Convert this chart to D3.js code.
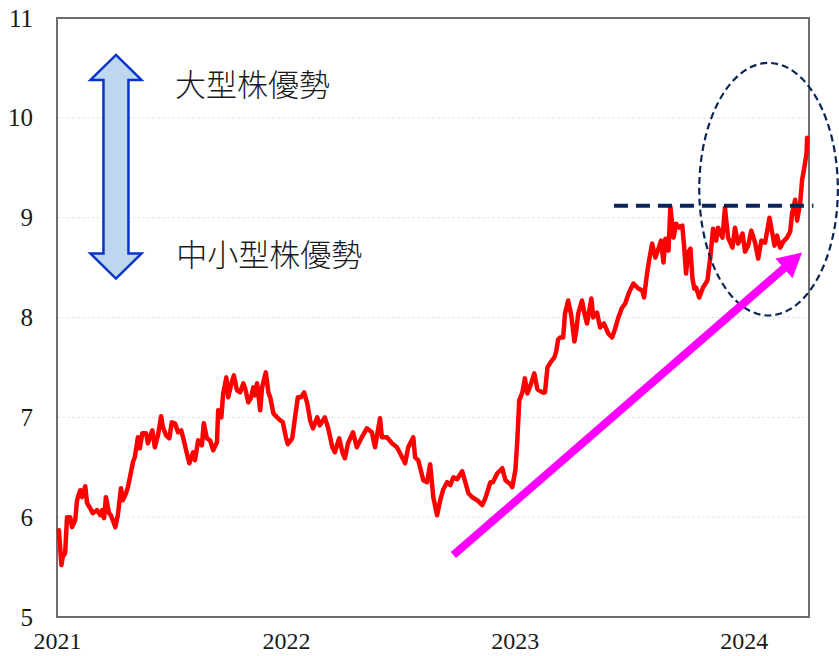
<!DOCTYPE html>
<html>
<head>
<meta charset="utf-8">
<script src="https://cdn.jsdelivr.net/npm/d3@7"></script>
<style>
  html, body { margin: 0; padding: 0; background: #fff; }
  svg { display: block; }
</style>
</head>
<body>
<svg id="chart" width="839" height="656"></svg>
<script>
// Large-cap vs small/mid-cap relative strength ratio, 2021 – Apr 2024
const dates = [
  // 2021
  "2021-01-04","2021-01-06","2021-01-08","2021-01-10","2021-01-14","2021-01-17","2021-01-22","2021-01-25","2021-01-30",
  "2021-02-02","2021-02-07","2021-02-10","2021-02-15","2021-02-18","2021-02-23","2021-02-27",
  "2021-03-06","2021-03-11","2021-03-14","2021-03-17","2021-03-20","2021-03-25","2021-03-28",
  "2021-04-04","2021-04-08","2021-04-13","2021-04-16","2021-04-21","2021-04-24","2021-04-27",
  "2021-05-02","2021-05-05","2021-05-10","2021-05-13","2021-05-17","2021-05-23","2021-05-26",
  "2021-06-02","2021-06-06","2021-06-11","2021-06-16","2021-06-19","2021-06-24","2021-06-29",
  "2021-07-03","2021-07-08","2021-07-13","2021-07-18","2021-07-21","2021-07-27","2021-07-31",
  "2021-08-06","2021-08-09","2021-08-14","2021-08-20","2021-08-23","2021-08-28",
  "2021-09-02","2021-09-07","2021-09-13","2021-09-15","2021-09-20","2021-09-23","2021-09-28",
  "2021-10-01","2021-10-06","2021-10-10","2021-10-15","2021-10-20","2021-10-25","2021-10-28",
  "2021-11-02","2021-11-06","2021-11-10","2021-11-13","2021-11-16","2021-11-21","2021-11-24","2021-11-30",
  "2021-12-04","2021-12-07","2021-12-12","2021-12-18","2021-12-23","2021-12-27",
  // 2022
  "2022-01-01","2022-01-04","2022-01-11","2022-01-16","2022-01-20","2022-01-25","2022-01-30",
  "2022-02-04","2022-02-09","2022-02-13","2022-02-20","2022-02-24",
  "2022-03-04","2022-03-09","2022-03-16","2022-03-20","2022-03-27",
  "2022-04-01","2022-04-05","2022-04-10","2022-04-18","2022-04-24",
  "2022-05-02","2022-05-10","2022-05-18","2022-05-23","2022-05-31",
  "2022-06-03","2022-06-11","2022-06-19","2022-06-27",
  "2022-07-02","2022-07-10","2022-07-15","2022-07-23","2022-07-26","2022-07-31",
  "2022-08-08","2022-08-14","2022-08-19","2022-08-24","2022-08-30",
  "2022-09-04","2022-09-09","2022-09-15","2022-09-20","2022-09-25",
  "2022-10-01","2022-10-09","2022-10-14","2022-10-19","2022-10-25",
  "2022-11-02","2022-11-10","2022-11-15","2022-11-23","2022-11-27",
  "2022-12-04","2022-12-12","2022-12-17","2022-12-25","2022-12-28",
  // 2023
  "2023-01-02","2023-01-05","2023-01-08","2023-01-13","2023-01-17","2023-01-21","2023-01-27",
  "2023-02-01","2023-02-06","2023-02-14","2023-02-18","2023-02-22","2023-02-28",
  "2023-03-05","2023-03-08","2023-03-11","2023-03-14","2023-03-19","2023-03-22","2023-03-27",
  "2023-04-01","2023-04-06","2023-04-09","2023-04-12","2023-04-18","2023-04-22","2023-04-26",
  "2023-05-03","2023-05-06","2023-05-12","2023-05-17","2023-05-23","2023-05-30",
  "2023-06-05","2023-06-10","2023-06-15","2023-06-21","2023-06-26",
  "2023-07-02","2023-07-09","2023-07-17","2023-07-23","2023-07-26","2023-07-31",
  "2023-08-03","2023-08-08","2023-08-13","2023-08-18","2023-08-22","2023-08-26","2023-08-29",
  "2023-09-03","2023-09-06","2023-09-11","2023-09-15","2023-09-20","2023-09-25","2023-09-28",
  "2023-10-01","2023-10-04","2023-10-08","2023-10-11","2023-10-14","2023-10-17","2023-10-22","2023-10-28",
  "2023-11-04","2023-11-09","2023-11-13","2023-11-18","2023-11-21","2023-11-28",
  "2023-12-02","2023-12-07","2023-12-14","2023-12-18","2023-12-23","2023-12-30",
  // 2024
  "2024-01-03","2024-01-08","2024-01-13","2024-01-19","2024-01-24","2024-01-29",
  "2024-02-04","2024-02-11","2024-02-15","2024-02-19","2024-02-23","2024-02-28",
  "2024-03-04","2024-03-10","2024-03-15","2024-03-18","2024-03-23","2024-03-26","2024-03-31",
  "2024-04-03","2024-04-06","2024-04-10","2024-04-11"
];

const ratio = [
  // 2021
  5.87,5.70,5.52,5.60,5.64,6.00,6.00,5.90,5.97,
  6.17,6.27,6.20,6.31,6.14,6.09,6.04,
  6.07,6.02,6.07,5.99,6.20,6.04,6.02,
  5.90,6.02,6.29,6.17,6.24,6.30,6.39,
  6.55,6.60,6.80,6.69,6.84,6.84,6.74,
  6.87,6.70,6.82,7.01,6.90,6.82,6.79,
  6.95,6.94,6.85,6.87,6.80,6.64,6.54,
  6.65,6.57,6.77,6.72,6.94,6.79,
  6.77,6.67,6.75,7.07,7.00,7.24,7.40,
  7.20,7.34,7.42,7.27,7.25,7.34,7.29,
  7.15,7.19,7.30,7.22,7.34,7.07,7.30,7.45,
  7.25,7.20,7.04,7.00,6.97,6.95,
  // 2022
  6.80,6.73,6.79,7.02,7.20,7.20,7.25,
  7.14,6.96,6.89,7.00,6.92,
  7.00,6.90,6.70,6.65,6.79,
  6.65,6.59,6.74,6.85,6.70,
  6.80,6.89,6.85,6.70,6.99,
  6.80,6.80,6.74,6.70,
  6.64,6.54,6.70,6.80,6.60,6.57,
  6.37,6.35,6.53,6.20,6.02,
  6.17,6.28,6.35,6.32,6.40,
  6.38,6.46,6.35,6.24,6.20,
  6.17,6.12,6.19,6.35,6.35,
  6.44,6.49,6.37,6.33,6.30,
  // 2023
  6.48,6.78,7.17,7.25,7.39,7.24,7.34,
  7.44,7.28,7.25,7.25,7.50,7.56,
  7.60,7.66,7.78,7.80,7.80,8.04,8.17,
  8.02,7.76,7.87,8.04,8.17,8.04,7.94,
  8.19,8.00,8.05,7.90,7.94,7.84,
  7.80,7.89,8.00,8.10,8.14,
  8.25,8.34,8.29,8.27,8.20,8.45,
  8.57,8.74,8.60,8.69,8.77,8.55,8.79,
  8.67,9.11,8.80,8.94,8.90,8.92,8.70,
  8.44,8.65,8.69,8.40,8.29,8.30,8.20,8.30,
  8.37,8.62,8.89,8.77,8.90,8.80,
  9.10,8.80,8.70,8.90,8.74,8.84,
  // 2024
  8.66,8.72,8.87,8.75,8.59,8.77,
  8.75,9.00,8.86,8.72,8.82,8.70,
  8.76,8.80,8.86,9.04,9.18,8.97,9.15,
  9.38,9.48,9.64,9.80
];

const yTicks = [5, 6, 7, 8, 9, 10, 11];
const xTickYears = ["2021", "2022", "2023", "2024"];
const xDomain = ["2021-01-01", "2024-04-14"];
const yDomain = [5, 11];

// Annotations, in data units
const resistanceLevel = 9.12;
const resistanceSpan = ["2023-06-08", "2024-04-21"];
const trendArrow = { from: ["2022-09-25", 5.62], to: ["2024-04-03", 8.65] };
const focusEllipse = { dates: ["2023-10-22", "2024-05-30"], values: [8.02, 10.55] };
const scaleArrow = { date: "2021-04-05", top: 10.63, bottom: 8.39 };
const labels = [
  { text: "大型株優勢", date: "2021-07-08", value: 10.35 },
  { text: "中小型株優勢", date: "2021-07-10", value: 8.65 }
];

const parse = d3.timeParse("%Y-%m-%d");
const series = dates.map((d, i) => ({ date: parse(d), value: ratio[i] }));

const svg = d3.select("#chart");
const margin = { top: 18, right: 30, bottom: 39, left: 57 };
const W = 839, H = 656;
const innerW = W - margin.left - margin.right;
const innerH = H - margin.top - margin.bottom;

const x = d3.scaleTime().domain(xDomain.map(parse)).range([0, innerW]);
const y = d3.scaleLinear().domain(yDomain).range([innerH, 0]);

const g = svg.append("g").attr("transform", `translate(${margin.left},${margin.top})`);

const tickFont = "'Liberation Serif', 'DejaVu Serif', serif";

// Horizontal gridlines
g.append("g")
  .selectAll("line")
  .data(yTicks.filter(t => t > yDomain[0] && t < yDomain[1]))
  .join("line")
  .attr("x1", 0).attr("x2", innerW)
  .attr("y1", d => y(d)).attr("y2", d => y(d))
  .attr("stroke", "#e4e4e4")
  .attr("stroke-width", 1)
  .attr("stroke-dasharray", "3,2");

// Y axis labels
const yAxis = d3.axisLeft(y).tickValues(yTicks).tickSize(0).tickPadding(24).tickFormat(d3.format("d"));
g.append("g").call(yAxis)
  .call(a => a.select(".domain").remove())
  .selectAll("text")
  .attr("font-family", tickFont)
  .attr("font-size", 25)
  .attr("fill", "#1a1a1a");

// X axis labels
const xAxis = d3.axisBottom(x)
  .tickValues(xTickYears.map(yr => parse(yr + "-01-01")))
  .tickSize(0).tickPadding(15)
  .tickFormat(d3.timeFormat("%Y"));
g.append("g").attr("transform", `translate(0,${innerH})`).call(xAxis)
  .call(a => a.select(".domain").remove())
  .selectAll("text")
  .attr("font-family", tickFont)
  .attr("font-size", 24)
  .attr("fill", "#1a1a1a");

// Plot frame
g.append("rect")
  .attr("x", 0).attr("y", 0)
  .attr("width", innerW).attr("height", innerH)
  .attr("fill", "none")
  .attr("stroke", "#6e6e6e")
  .attr("stroke-width", 2);

// Main ratio line
const line = d3.line().x(d => x(d.date)).y(d => y(d.value));
g.append("path")
  .datum(series)
  .attr("d", line)
  .attr("fill", "none")
  .attr("stroke", "#ff0000")
  .attr("stroke-width", 4.5)
  .attr("stroke-linejoin", "round")
  .attr("stroke-linecap", "round");

const navy = "#0c2557";

// Resistance level
g.append("line")
  .attr("x1", x(parse(resistanceSpan[0])))
  .attr("x2", x(parse(resistanceSpan[1])))
  .attr("y1", y(resistanceLevel)).attr("y2", y(resistanceLevel))
  .attr("stroke", navy)
  .attr("stroke-width", 4)
  .attr("stroke-dasharray", "14,8");

// Focus ellipse
{
  const x0 = x(parse(focusEllipse.dates[0])), x1 = x(parse(focusEllipse.dates[1]));
  const yTop = y(focusEllipse.values[1]), yBot = y(focusEllipse.values[0]);
  g.append("ellipse")
    .attr("cx", (x0 + x1) / 2).attr("cy", (yTop + yBot) / 2)
    .attr("rx", (x1 - x0) / 2).attr("ry", (yBot - yTop) / 2)
    .attr("fill", "none")
    .attr("stroke", navy)
    .attr("stroke-width", 2.2)
    .attr("stroke-dasharray", "7,4");
}

// Trend arrow
{
  const sx = x(parse(trendArrow.from[0])), sy = y(trendArrow.from[1]);
  const tx = x(parse(trendArrow.to[0])), ty = y(trendArrow.to[1]);
  const len = Math.hypot(tx - sx, ty - sy);
  const ux = (tx - sx) / len, uy = (ty - sy) / len;
  const headLen = 24, headHalf = 13;
  const bx = tx - ux * headLen, by = ty - uy * headLen;
  g.append("line")
    .attr("x1", sx).attr("y1", sy)
    .attr("x2", bx + ux * 2).attr("y2", by + uy * 2)
    .attr("stroke", "#ff00ff")
    .attr("stroke-width", 8);
  g.append("path")
    .attr("d", `M${tx},${ty} L${bx - uy * headHalf},${by + ux * headHalf} L${bx + uy * headHalf},${by - ux * headHalf} Z`)
    .attr("fill", "#ff00ff");
}

// Double-headed scale arrow
{
  const cx = x(parse(scaleArrow.date));
  const yt = y(scaleArrow.top), yb = y(scaleArrow.bottom);
  const headHalf = 25.5, shaftHalf = 12.5, headLen = 25;
  const p = [
    [cx, yt],
    [cx + headHalf, yt + headLen],
    [cx + shaftHalf, yt + headLen],
    [cx + shaftHalf, yb - headLen],
    [cx + headHalf, yb - headLen],
    [cx, yb],
    [cx - headHalf, yb - headLen],
    [cx - shaftHalf, yb - headLen],
    [cx - shaftHalf, yt + headLen],
    [cx - headHalf, yt + headLen]
  ];
  g.append("path")
    .attr("d", "M" + p.map(q => q.join(",")).join("L") + "Z")
    .attr("fill", "#bdd7ee")
    .attr("stroke", "#0a32cc")
    .attr("stroke-width", 2.5)
    .attr("stroke-linejoin", "miter");
}

// Region labels
g.append("g")
  .selectAll("text")
  .data(labels)
  .join("text")
  .attr("x", d => x(parse(d.date)))
  .attr("y", d => y(d.value))
  .attr("dominant-baseline", "central")
  .attr("font-family", "'Noto Sans CJK JP', 'Noto Sans CJK SC', sans-serif")
  .attr("font-weight", 300)
  .attr("font-size", 31)
  .attr("fill", "#1a1a1a")
  .text(d => d.text);
</script>
</body>
</html>
